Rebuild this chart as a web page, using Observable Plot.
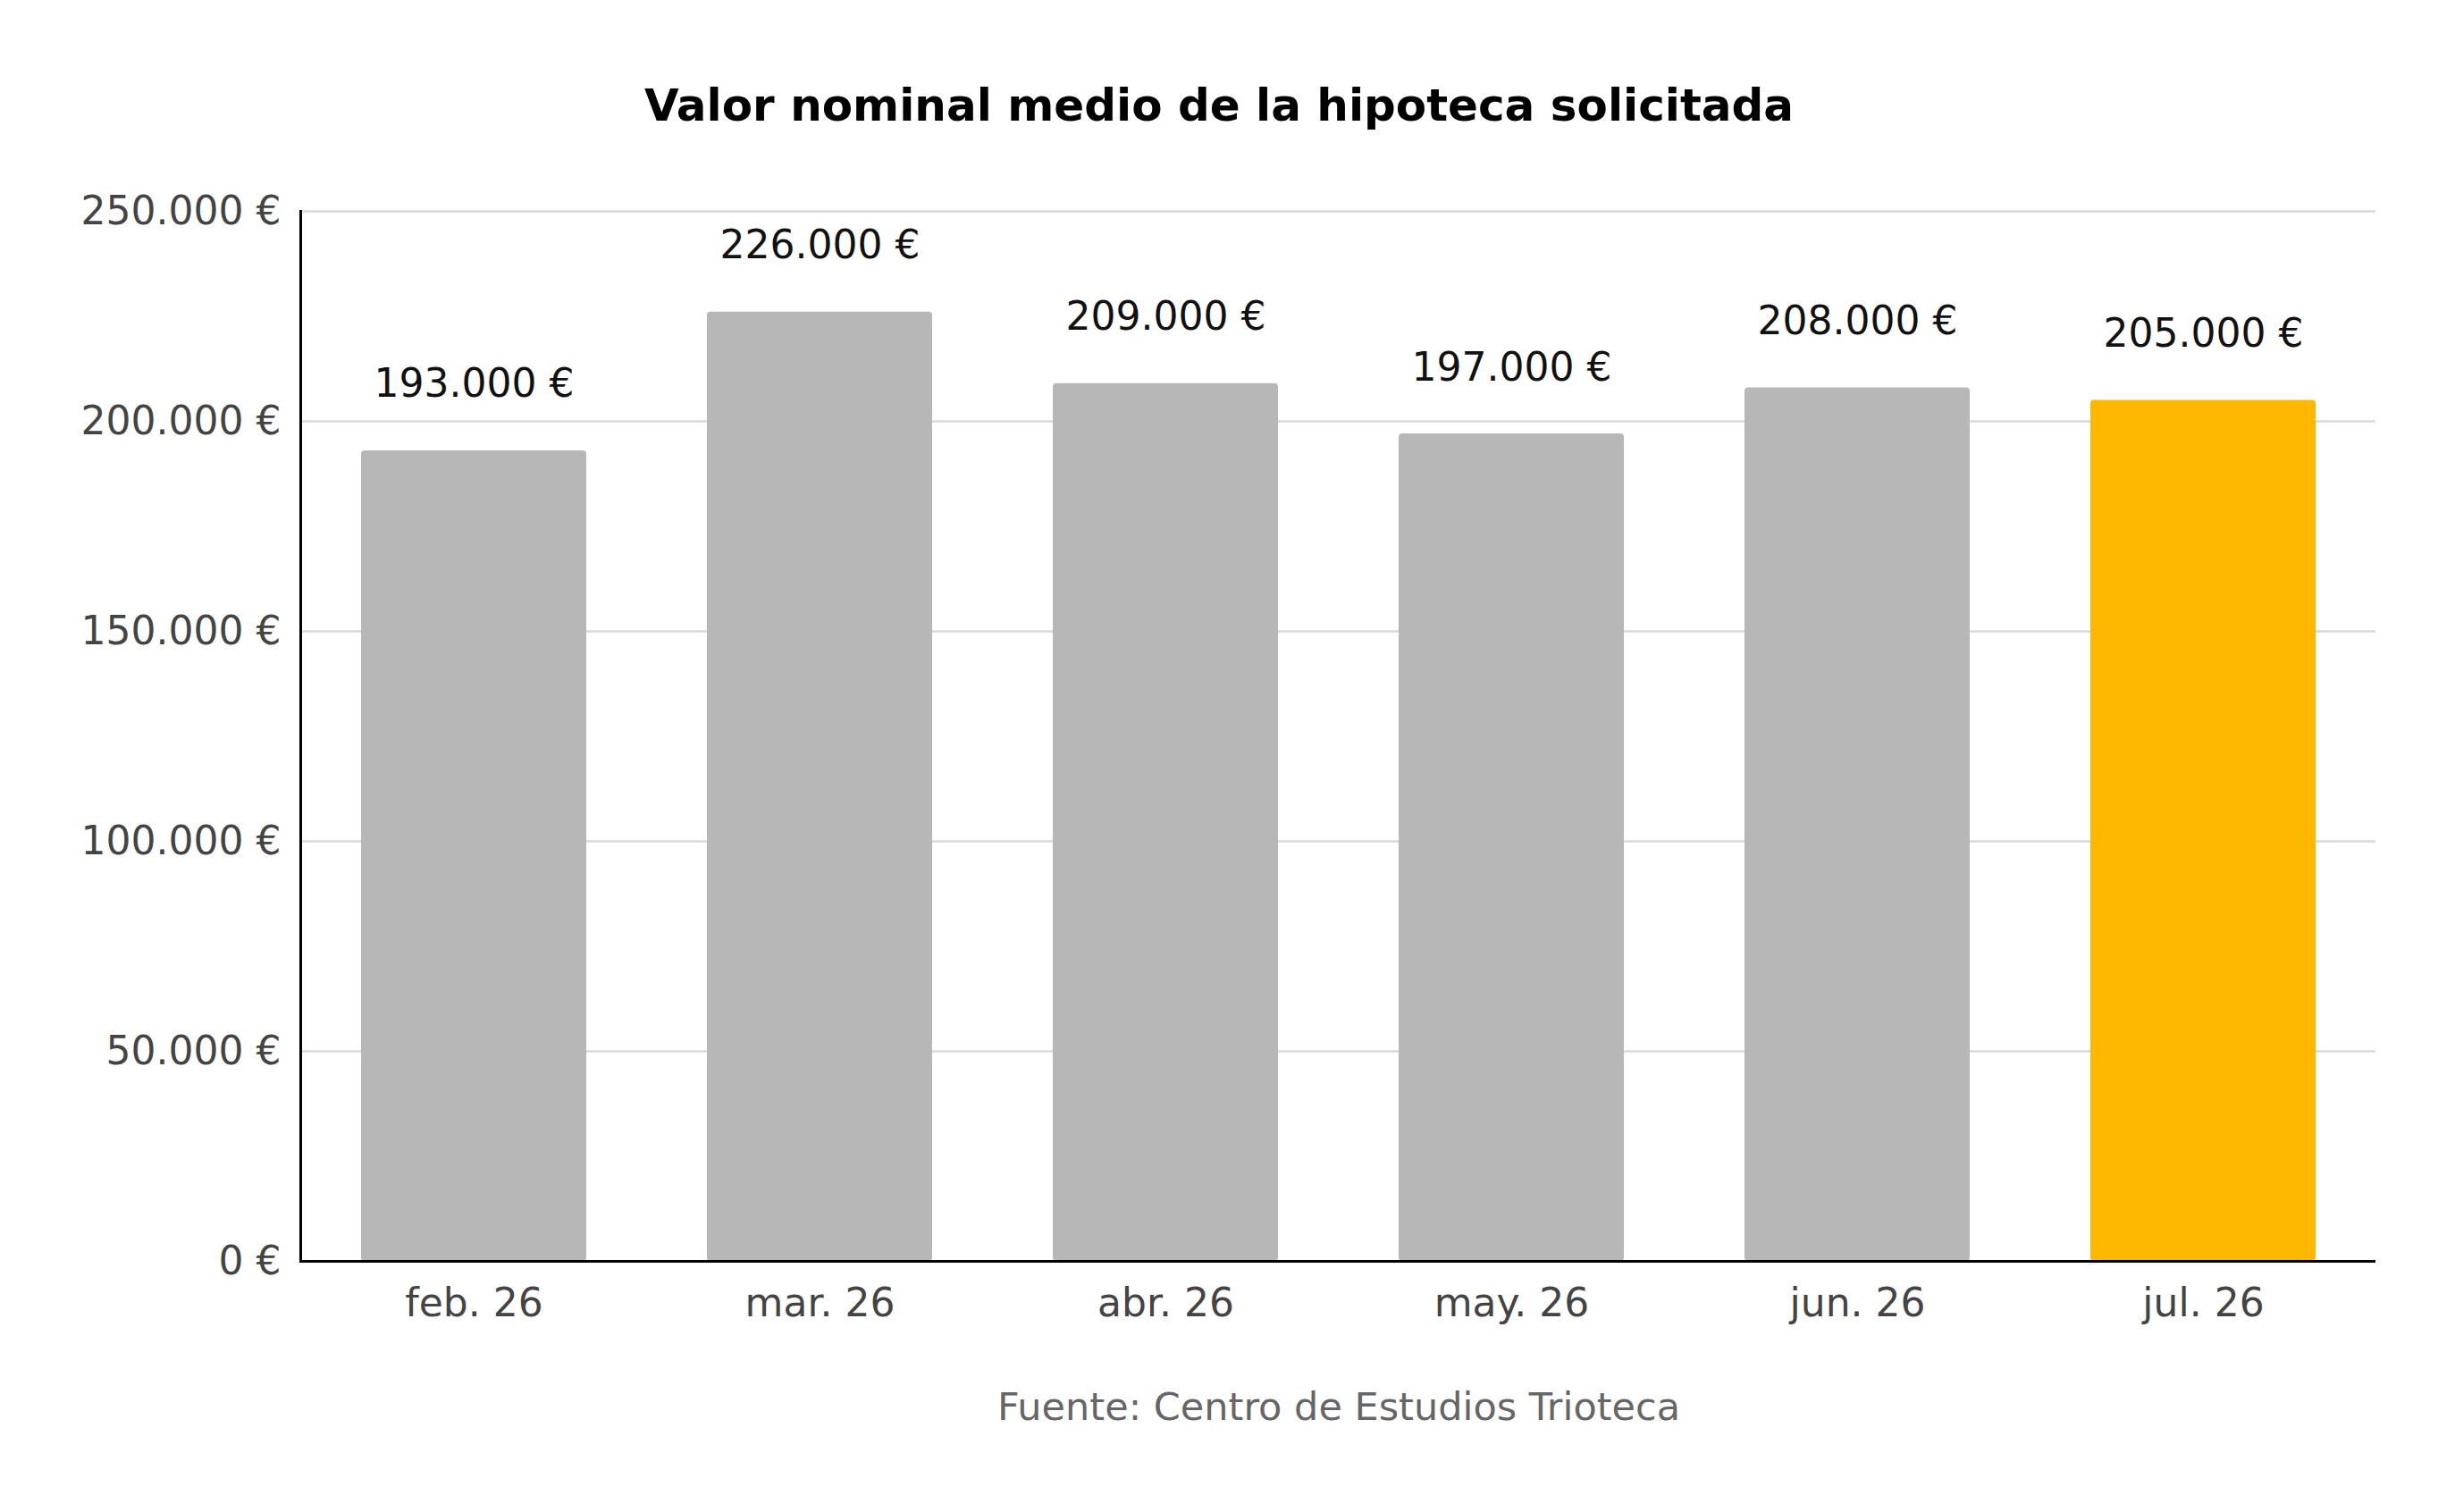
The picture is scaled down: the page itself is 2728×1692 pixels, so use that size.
<!DOCTYPE html>
<html><head><meta charset="utf-8">
<script src="https://cdn.jsdelivr.net/npm/d3@7"></script>
<script src="https://cdn.jsdelivr.net/npm/@observablehq/plot@0.6"></script>
<style>
body{margin:0;background:#fff;font-family:"DejaVu Sans",Verdana,sans-serif;width:2728px;}
#title{height:170px;line-height:236px;text-align:center;font-weight:bold;font-size:50px;color:#000;box-sizing:border-box;}
#foot{text-align:center;font-size:43px;color:#666;padding-left:268px;margin-top:18px;}
</style></head><body>
<div id="title">Valor nominal medio de la hipoteca solicitada</div>
<div id="chart"></div>
<div id="foot">Fuente: Centro de Estudios Trioteca</div>
<script>
const months = ["feb. 26","mar. 26","abr. 26","may. 26","jun. 26","jul. 26"];
const values = [193000,226000,209000,197000,208000,205000];
const yTicks = [0,50000,100000,150000,200000,250000];
const data = months.map((m,i)=>({m, v: values[i], hl: i===months.length-1}));
const fmtN = d3.formatLocale({decimal:",",thousands:".",grouping:[3],currency:["","€"]}).format(",");
const fmt = d => fmtN(d) + " €";
const chart = Plot.plot({
  width:2728, height:1361,
  marginLeft:336, marginRight:70, marginTop:66, marginBottom:120,
  style:{fontFamily:"DejaVu Sans, Verdana, sans-serif", fontSize:"44px", background:"#fff"},
  x:{domain:months, paddingInner:0.35, paddingOuter:0.175, label:null},
  y:{domain:[0,250000], label:null},
  marks:[
    Plot.gridY(yTicks,{stroke:"#d9d9d9", strokeOpacity:1, strokeWidth:2.5}),
    Plot.barY(data,{x:"m", y:"v", fill:d=>d.hl?"#ffb800":"#b7b7b7", rx:4}),
    Plot.text(data,{x:"m", y:"v", text:d=>fmt(d.v), dy:-74, fill:"#111", fontSize:44}),
    Plot.axisY({ticks:yTicks, tickFormat:fmt, tickSize:0, tickPadding:22, fill:"#444", fontSize:44}),
    Plot.axisX({tickSize:0, tickPadding:30, fill:"#444", fontSize:44}),
    Plot.frame({anchor:"left", stroke:"#000", strokeWidth:3}),
    Plot.ruleY([0],{stroke:"#000", strokeWidth:3})
  ]
});
document.getElementById("chart").appendChild(chart);
</script></body></html>
